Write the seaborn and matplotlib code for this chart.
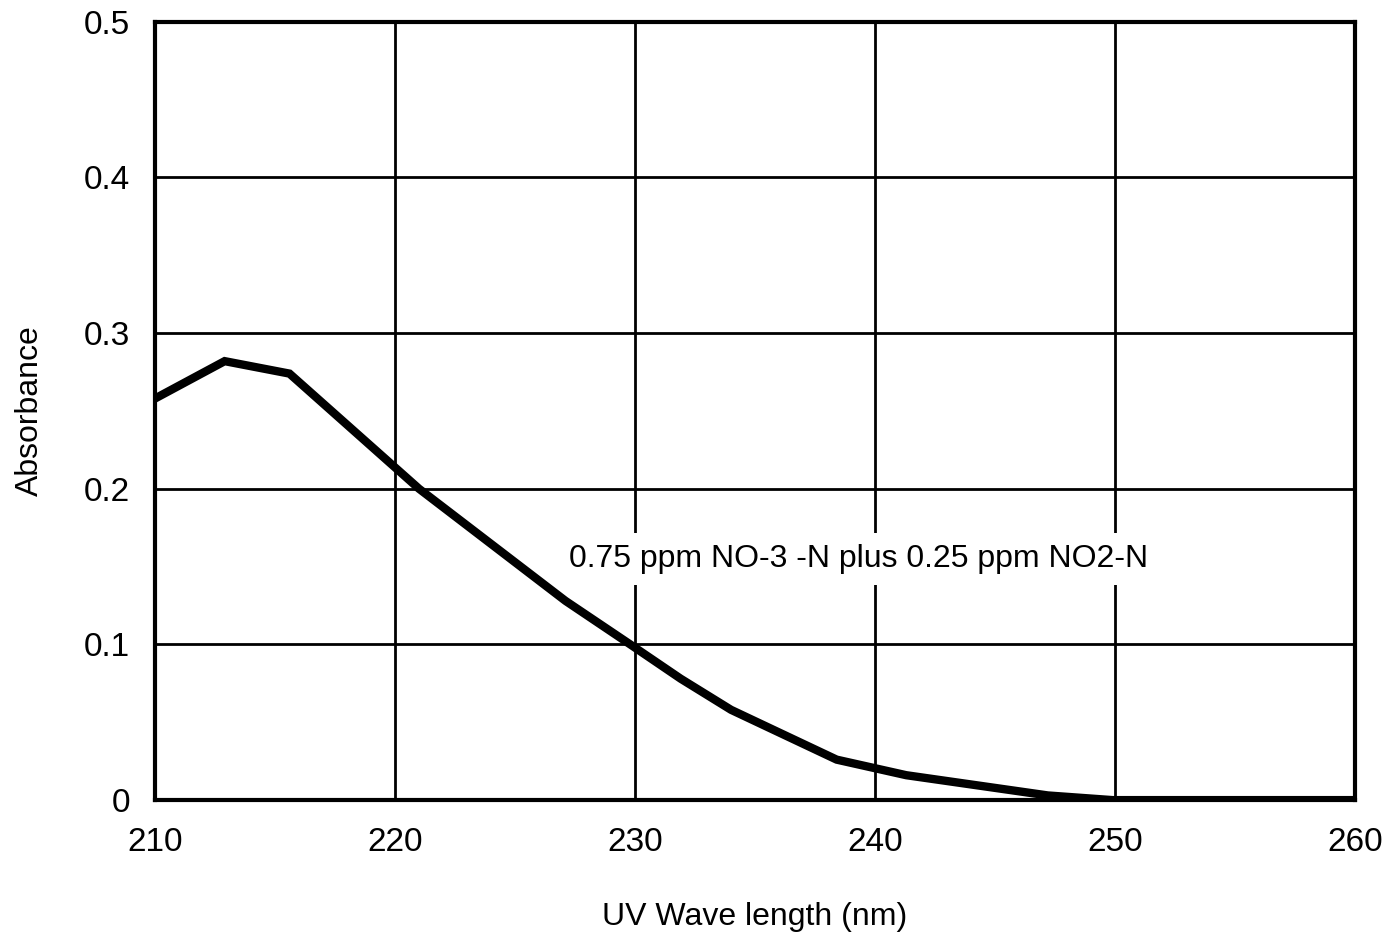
import matplotlib
matplotlib.use("Agg")
import matplotlib.pyplot as plt
import seaborn as sns
import pandas as pd

# Absorbance spectrum of the mixed nitrate/nitrite standard
wavelength = [210.0, 212.9, 215.6, 221.0, 227.1, 229.8, 231.9, 234.0, 238.4, 241.3, 247.2, 249.9, 260.0]
absorbance = [0.258, 0.282, 0.274, 0.200, 0.128, 0.100, 0.078, 0.058, 0.026, 0.016, 0.003, 0.000, 0.000]

x_ticks = [210, 220, 230, 240, 250, 260]
y_ticks = [0, 0.1, 0.2, 0.3, 0.4, 0.5]
y_tick_labels = ["0", "0.1", "0.2", "0.3", "0.4", "0.5"]

series_label = "0.75 ppm NO-3 -N plus 0.25 ppm NO2-N"

sns.set_style("white")
plt.rcParams["font.family"] = ["Liberation Sans", "DejaVu Sans"]
plt.rcParams["text.color"] = "black"
plt.rcParams["axes.labelcolor"] = "black"

df = pd.DataFrame({"wavelength": wavelength, "absorbance": absorbance})

fig = plt.figure(figsize=(13.97, 9.48), dpi=100)
ax = fig.add_axes([0.111, 0.156, 0.859, 0.821])

sns.lineplot(data=df, x="wavelength", y="absorbance", ax=ax,
             color="black", linewidth=6, zorder=3, solid_joinstyle="miter")

ax.set_xlim(210, 260)
ax.set_ylim(0, 0.5)
ax.set_xticks(x_ticks)
ax.set_xticklabels([str(t) for t in x_ticks])
ax.set_yticks(y_ticks)
ax.set_yticklabels(y_tick_labels)

ax.grid(True, color="black", linewidth=2.0, zorder=1)
ax.set_axisbelow(True)
for s in ax.spines.values():
    s.set_color("black")
    s.set_linewidth(3)
    s.set_visible(True)

ax.tick_params(axis="both", direction="out", length=7, width=2.5,
               colors="black", labelsize=24, pad=11)
ax.tick_params(axis="x", pad=12)

ax.set_xlabel("UV Wave length (nm)", fontsize=23, labelpad=32)
ax.set_ylabel("Absorbance", fontsize=23, labelpad=28)

ax.text(239.3, 0.155, series_label, fontsize=23, ha="center", va="center",
        color="black", zorder=4,
        bbox=dict(facecolor="white", edgecolor="none", pad=8))

fig.savefig("out.png", dpi=100)
